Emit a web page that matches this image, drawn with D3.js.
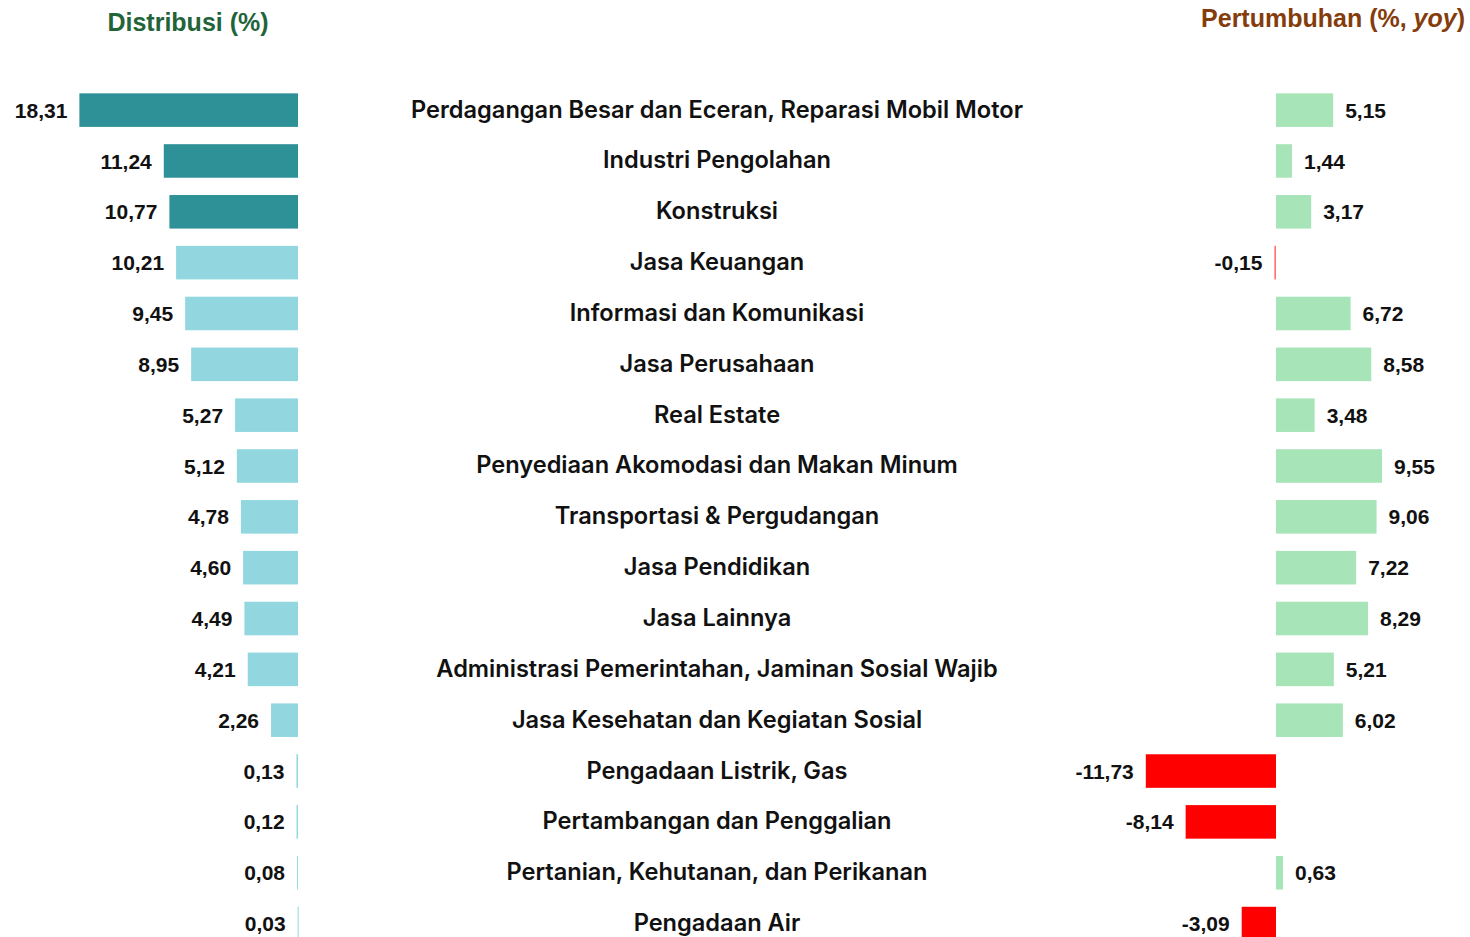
<!DOCTYPE html>
<html>
<head>
<meta charset="utf-8">
<script src="https://cdn.jsdelivr.net/npm/d3@7.9.0/dist/d3.min.js"></script>
<style>
  body { margin: 0; background: #fff; }
  svg { display: block; }
  .val { font-family: "Liberation Sans", Arial, sans-serif; font-weight: bold; font-size: 21px; fill: #111; }
  .cat { font-family: Inter, "Open Sans", sans-serif; font-weight: 600; font-size: 23.6px; fill: #111; }
  .title { font-family: "Liberation Sans", Arial, sans-serif; font-weight: bold; font-size: 25px; }
</style>
</head>
<body>
<svg id="chart" width="1470" height="937"></svg>
<script>
const categories = [
  'Perdagangan Besar dan Eceran, Reparasi Mobil Motor',
  'Industri Pengolahan',
  'Konstruksi',
  'Jasa Keuangan',
  'Informasi dan Komunikasi',
  'Jasa Perusahaan',
  'Real Estate',
  'Penyediaan Akomodasi dan Makan Minum',
  'Transportasi & Pergudangan',
  'Jasa Pendidikan',
  'Jasa Lainnya',
  'Administrasi Pemerintahan, Jaminan Sosial Wajib',
  'Jasa Kesehatan dan Kegiatan Sosial',
  'Pengadaan Listrik, Gas',
  'Pertambangan dan Penggalian',
  'Pertanian, Kehutanan, dan Perikanan',
  'Pengadaan Air'
];
const distribusi = [18.31, 11.24, 10.77, 10.21, 9.45, 8.95, 5.27, 5.12, 4.78, 4.60, 4.49, 4.21, 2.26, 0.13, 0.12, 0.08, 0.03];
const pertumbuhan = [5.15, 1.44, 3.17, -0.15, 6.72, 8.58, 3.48, 9.55, 9.06, 7.22, 8.29, 5.21, 6.02, -11.73, -8.14, 0.63, -3.09];

const fmt = v => v.toFixed(2).replace('.', ',');

const svg = d3.select('#chart');

const y = d3.scaleBand()
  .domain(categories)
  .range([84.7, 84.7 + 17 * 50.84])
  .paddingInner(0.34)
  .paddingOuter(0.17);

// left: distribution, bars grow leftwards from x=298
const xL = d3.scaleLinear().domain([0, 20]).range([298, 298 - 238.8]);
// right: growth, zero at x=1276
const xR = d3.scaleLinear().domain([-12, 10]).range([1276 - 133.2, 1276 + 111]);

const rowsL = categories.map((c, i) => ({ cat: c, v: distribusi[i], i }));
const rowsR = categories.map((c, i) => ({ cat: c, v: pertumbuhan[i], i }));

svg.append('text')
  .attr('class', 'title')
  .attr('x', 188).attr('y', 31)
  .attr('text-anchor', 'middle')
  .attr('fill', '#22643A')
  .text('Distribusi (%)');

const t2 = svg.append('text')
  .attr('class', 'title')
  .attr('x', 1465).attr('y', 27)
  .attr('text-anchor', 'end')
  .attr('fill', '#843C0C');
t2.append('tspan').text('Pertumbuhan (%, ');
t2.append('tspan').attr('font-style', 'italic').text('yoy');
t2.append('tspan').text(')');

// left bars
svg.selectAll('rect.left')
  .data(rowsL)
  .join('rect')
  .attr('class', 'left')
  .attr('x', d => xL(d.v))
  .attr('y', d => y(d.cat))
  .attr('width', d => Math.max(1, xL(0) - xL(d.v)))
  .attr('height', y.bandwidth())
  .attr('fill', d => d.i < 3 ? '#2F9198' : '#92D7DF');

svg.selectAll('text.lval')
  .data(rowsL)
  .join('text')
  .attr('class', 'val lval')
  .attr('x', d => xL(d.v) - 12)
  .attr('y', d => y(d.cat) + y.bandwidth() / 2)
  .attr('dy', '0.36em')
  .attr('text-anchor', 'end')
  .text(d => fmt(d.v));

// category labels
svg.selectAll('text.cat')
  .data(categories)
  .join('text')
  .attr('class', 'cat')
  .attr('x', 717)
  .attr('y', d => y(d) + y.bandwidth() / 2 - 1)
  .attr('dy', '0.36em')
  .attr('text-anchor', 'middle')
  .text(d => d);

// right bars
svg.selectAll('rect.right')
  .data(rowsR)
  .join('rect')
  .attr('class', 'right')
  .attr('x', d => d.v < 0 ? xR(d.v) : xR(0))
  .attr('y', d => y(d.cat))
  .attr('width', d => Math.max(1, Math.abs(xR(d.v) - xR(0))))
  .attr('height', y.bandwidth())
  .attr('fill', d => d.v < 0 ? '#FF0000' : '#A7E4B8')
  .attr('fill-opacity', d => Math.abs(d.v) < 0.5 ? 0.55 : 1);

svg.selectAll('text.rval')
  .data(rowsR)
  .join('text')
  .attr('class', 'val rval')
  .attr('x', d => d.v < 0 ? xR(d.v) - 12 : xR(d.v) + 12)
  .attr('y', d => y(d.cat) + y.bandwidth() / 2)
  .attr('dy', '0.36em')
  .attr('text-anchor', d => d.v < 0 ? 'end' : 'start')
  .text(d => fmt(d.v));
</script>
</body>
</html>
